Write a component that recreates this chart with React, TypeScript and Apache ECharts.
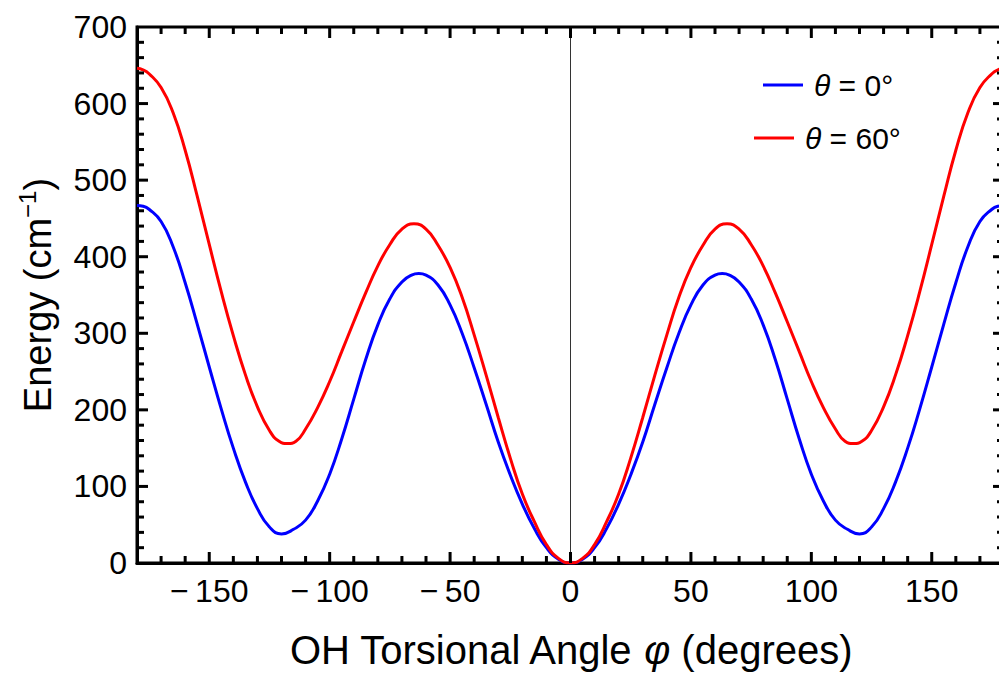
import React, { useEffect, useRef } from 'react';
import * as echarts from 'echarts';

// theta = 0°: torsional angle phi (degrees) and energy (cm^-1)
const phiTheta0 = [
  -180, -177.5, -175, -170, -165, -160, -155, -150, -145, -140, -135, -130, -125, -120,
  -115, -110, -105, -100, -95, -90, -85, -80, -75, -70, -66, -63, -60, -55, -50, -45,
  -40, -35, -30, -25, -20, -15, -10, -5, 0, 5, 10, 15, 20, 25, 30, 35, 40,
  45, 50, 55, 60, 63, 66, 70, 75, 80, 85, 90, 95, 100, 105, 110, 115,
  120, 125, 130, 135, 140, 145, 150, 155, 160, 165, 170, 175, 177.5, 180,
];
const energyTheta0 = [
  467, 466, 462, 446, 413, 366, 312, 256, 201, 150, 106, 71, 47, 38,
  44, 56, 81, 116, 162, 214, 266, 311, 345, 367, 376, 378, 376, 363, 337, 300,
  255, 207, 158, 115, 77, 45, 20, 5, 0, 5, 20, 45, 77, 115, 158, 207, 255,
  300, 337, 363, 376, 378, 376, 367, 345, 311, 266, 214, 162, 116, 81, 56, 44,
  38, 47, 71, 106, 150, 201, 256, 312, 366, 413, 446, 462, 466, 467,
];

// theta = 60°: torsional angle phi (degrees) and energy (cm^-1)
const phiTheta60 = [
  -180, -177.5, -175, -170, -165, -160, -155, -150, -145, -140, -135, -130, -125, -121,
  -117.5, -114, -110, -105, -100, -95, -90, -85, -80, -75, -70, -65, -60, -55, -50, -45,
  -40, -35, -30, -25, -20, -15, -10, -5, 0, 5, 10, 15, 20, 25, 30, 35, 40,
  45, 50, 55, 60, 65, 70, 75, 80, 85, 90, 95, 100, 105, 110, 114, 117.5,
  121, 125, 130, 135, 140, 145, 150, 155, 160, 165, 170, 175, 177.5, 180,
];
const energyTheta60 = [
  646, 644, 639, 621, 588, 539, 479, 416, 354, 297, 246, 204, 173, 159,
  156, 159, 175, 203, 237, 276, 315, 353, 388, 416, 436, 443, 436, 415, 386, 347,
  298, 245, 190, 137, 90, 54, 24, 6, 0, 6, 24, 54, 90, 137, 190, 245, 298,
  347, 386, 415, 436, 443, 436, 416, 388, 353, 315, 276, 237, 203, 175, 159, 156,
  159, 173, 204, 246, 297, 354, 416, 479, 539, 588, 621, 639, 644, 646,
];

// vertical axis line through phi = 0
const zeroAxisLine = [[0, 0], [0, 700]];

const xLabelStep = 50;
const xMinorStep = 10;
const yMajorStep = 100;
const yMinorStep = 20;
const seriesNames = ['θ = 0°', 'θ = 60°'];
const seriesColors = ['#0000ff', '#ff0000'];

const FONT = '"Liberation Sans", Arial, Helvetica, sans-serif';

export default function App() {
  const ref = useRef<HTMLDivElement>(null);

  useEffect(() => {
    const chart = echarts.init(ref.current as HTMLDivElement, null, { renderer: 'svg' });

    const blueData = phiTheta0.map((p, i) => [p, energyTheta0[i]]);
    const redData = phiTheta60.map((p, i) => [p, energyTheta60[i]]);

    // Frame tick marks: [x, y, side (0 bottom, 1 top, 2 left, 3 right), major]
    const frameTicks: number[][] = [];
    for (let v = -180 + xMinorStep; v < 180; v += xMinorStep) {
      const major = v % xLabelStep === 0 ? 1 : 0;
      frameTicks.push([v, 0, 0, major]);
      frameTicks.push([v, 700, 1, major]);
    }
    for (let v = yMinorStep; v < 700; v += yMinorStep) {
      const major = v % yMajorStep === 0 ? 1 : 0;
      frameTicks.push([-180, v, 2, major]);
      frameTicks.push([180, v, 3, major]);
    }

    const axisLineStyle = { show: true, onZero: false, lineStyle: { color: '#000', width: 3 } };
    const legendRich = {
      i: { fontStyle: 'italic', fontSize: 30, fontFamily: FONT, fill: '#000', color: '#000' },
      n: { fontSize: 30, fontFamily: FONT, fill: '#000', color: '#000' },
    };
    const legendLabel = (name: string) => name.replace('θ', '{i|θ}{n|').concat('}');

    const option: any = {
      animation: false,
      backgroundColor: '#fff',
      grid: {
        left: 137, top: 27, width: 867, height: 536, outerBoundsMode: 'none',
        show: true, borderColor: '#000', borderWidth: 3, backgroundColor: 'transparent',
      },
      graphic: [
        { type: 'line', shape: { x1: 763, y1: 85, x2: 803, y2: 85 }, style: { stroke: seriesColors[0], lineWidth: 3 } },
        {
          type: 'text', x: 814, y: 85,
          style: { text: legendLabel(seriesNames[0]), verticalAlign: 'middle', fill: '#000', fontSize: 30, fontFamily: FONT, rich: legendRich },
        },
        { type: 'line', shape: { x1: 754, y1: 138, x2: 794, y2: 138 }, style: { stroke: seriesColors[1], lineWidth: 3 } },
        {
          type: 'text', x: 805, y: 138,
          style: { text: legendLabel(seriesNames[1]), verticalAlign: 'middle', fill: '#000', fontSize: 30, fontFamily: FONT, rich: legendRich },
        },
      ],
      xAxis: {
        type: 'value',
        min: -180,
        max: 180,
        interval: xMinorStep,
        splitLine: { show: false },
        axisLine: axisLineStyle,
        axisTick: { show: false },
        axisLabel: {
          interval: 0,
          fontSize: 32,
          color: '#000',
          fontFamily: FONT,
          margin: 12,
          formatter: (v: number) =>
            v % xLabelStep !== 0 ? '' : v < 0 ? '\u2212\u2009' + Math.abs(v) : String(v),
        },
        name: '{t|OH Torsional Angle }{i|φ}{t| (degrees)}',
        nameLocation: 'middle',
        nameGap: 67,
        nameTextStyle: {
          fontSize: 40,
          color: '#000',
          fontFamily: FONT,
          rich: {
            t: { fontSize: 40, color: '#000', fontFamily: FONT },
            i: { fontSize: 40, color: '#000', fontFamily: FONT, fontStyle: 'italic' },
          },
        },
      },
      yAxis: {
        type: 'value',
        min: 0,
        max: 700,
        interval: yMajorStep,
        splitLine: { show: false },
        axisLine: axisLineStyle,
        axisTick: { show: false },
        axisLabel: { fontSize: 32, color: '#000', fontFamily: FONT, margin: 10 },
        name: '{a|Energy (cm}{s|\u22121}{a|)}',
        nameLocation: 'middle',
        nameGap: 76,
        nameTextStyle: {
          fontSize: 38,
          color: '#000',
          fontFamily: FONT,
          rich: {
            a: { fontSize: 38, color: '#000', fontFamily: FONT, lineHeight: 46 },
            s: { fontSize: 24, color: '#000', fontFamily: FONT, lineHeight: 26, verticalAlign: 'top' },
          },
        },
      },
      series: [
        {
          type: 'custom',
          data: frameTicks,
          encode: { x: 0, y: 1 },
          clip: false,
          silent: true,
          z: 5,
          renderItem: (params: any, api: any) => {
            const side = api.value(2);
            const len = api.value(3) ? 11 : 7;
            const w = 3;
            const p = api.coord([api.value(0), api.value(1)]);
            let shape;
            if (side === 0) shape = { x: p[0] - w / 2, y: p[1] - len, width: w, height: len };
            else if (side === 1) shape = { x: p[0] - w / 2, y: p[1], width: w, height: len };
            else if (side === 2) shape = { x: p[0], y: p[1] - w / 2, width: len, height: w };
            else shape = { x: p[0] - len, y: p[1] - w / 2, width: len, height: w };
            return { type: 'rect', shape, style: { fill: '#000' } };
          },
        },
        {
          type: 'line',
          data: zeroAxisLine,
          symbol: 'none',
          silent: true,
          z: 1,
          lineStyle: { color: '#333', width: 1 },
        },
        {
          name: seriesNames[0],
          type: 'line',
          data: blueData,
          smooth: 0.5,
          symbol: 'none',
          z: 3,
          lineStyle: { color: seriesColors[0], width: 3 },
          itemStyle: { color: seriesColors[0] },
        },
        {
          name: seriesNames[1],
          type: 'line',
          data: redData,
          smooth: 0.5,
          symbol: 'none',
          z: 4,
          lineStyle: { color: seriesColors[1], width: 3 },
          itemStyle: { color: seriesColors[1] },
        },
      ],
    };

    chart.setOption(option);
    return () => chart.dispose();
  }, []);

  return (
    <div style={{ position: 'fixed', left: 0, top: 0, width: 999, height: 675, overflow: 'hidden', background: '#fff' }}>
      <div ref={ref} style={{ width: 1010, height: 675 }} />
    </div>
  );
}
